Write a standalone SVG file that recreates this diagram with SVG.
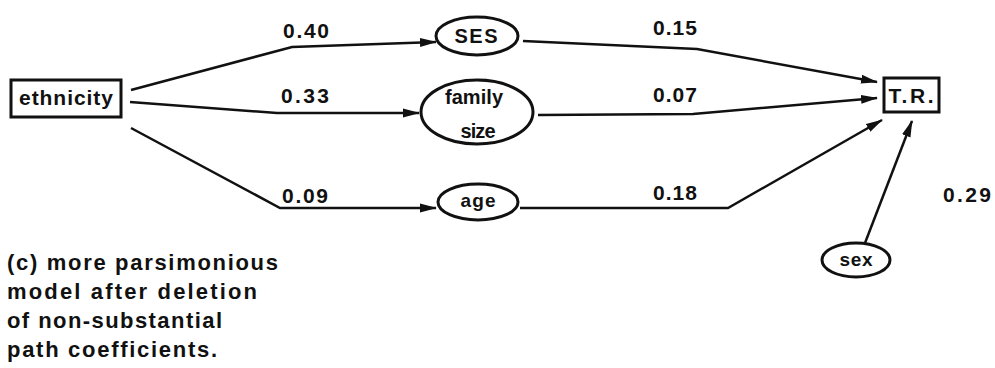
<svg xmlns="http://www.w3.org/2000/svg" width="995" height="368" viewBox="0 0 995 368">
<style>
.n{fill:#fff;stroke:#111;stroke-width:3}
.t{font-family:"Liberation Sans",Arial,sans-serif;font-weight:bold;fill:#111;text-anchor:middle}
.lbl{font-family:"Liberation Sans",Arial,sans-serif;font-weight:bold;font-size:21px;fill:#111}
.cap{font-family:"Liberation Sans",Arial,sans-serif;font-weight:bold;font-size:22px;fill:#111}
.e{fill:none;stroke:#111;stroke-width:2.5;marker-end:url(#arr)}
</style>
<defs>
<marker id="arr" markerWidth="17" markerHeight="10" refX="16" refY="5" orient="auto" markerUnits="userSpaceOnUse">
<path d="M0,0.5 L17,5 L0,9.5 z" fill="#111"/>
</marker>
</defs>
<rect width="995" height="368" fill="#fff"/>
<g id="connectors">
<path class="e" d="M131,90 L292,47 L436,42"/>
<path class="e" d="M130,102 L277,113 L419,113"/>
<path class="e" d="M131,128 L280,208 L436,208"/>
<path class="e" d="M523,41 L697,49 L877,82"/>
<path class="e" d="M538,115 L693,114 L877,98"/>
<path class="e" d="M520,208 L728,208 L882,120"/>
<path class="e" d="M865,243 L912,121"/>
</g>
<g id="labels">
<text class="lbl" x="283" y="38" textLength="46">0.40</text>
<text class="lbl" x="281" y="103" textLength="48">0.33</text>
<text class="lbl" x="282" y="203" textLength="46">0.09</text>
<text class="lbl" x="653" y="35" textLength="44">0.15</text>
<text class="lbl" x="653" y="102" textLength="44">0.07</text>
<text class="lbl" x="653" y="200" textLength="44">0.18</text>
<text class="lbl" x="943" y="202" textLength="48">0.29</text>
</g>
<g id="ethnicity">
<rect class="n" x="11" y="80" width="110" height="37"/>
<text class="t" x="66" y="105" font-size="21" textLength="94">ethnicity</text>
</g>
<g id="ses">
<ellipse class="n" cx="477" cy="36" rx="41" ry="19"/>
<text class="t" x="476" y="43" font-size="20" textLength="43">SES</text>
</g>
<g id="family-size">
<ellipse class="n" cx="477" cy="112" rx="56" ry="32"/>
<text class="t" x="474" y="104" font-size="20" textLength="58">family</text>
<text class="t" x="478" y="138" font-size="20" textLength="35">size</text>
</g>
<g id="age">
<ellipse class="n" cx="478" cy="202" rx="40" ry="18"/>
<text class="t" x="478" y="207" font-size="19" textLength="35">age</text>
</g>
<g id="tr">
<rect class="n" x="884" y="78" width="55" height="34"/>
<text class="t" x="911" y="103" font-size="21" textLength="45">T.R.</text>
</g>
<g id="sex">
<ellipse class="n" cx="856" cy="260" rx="34" ry="17"/>
<text class="t" x="856" y="266" font-size="19" textLength="33">sex</text>
</g>
<g id="caption">
<text class="cap" x="7" y="270" textLength="271" lengthAdjust="spacing">(c) more parsimonious</text>
<text class="cap" x="7" y="299" textLength="250" lengthAdjust="spacing">model after deletion</text>
<text class="cap" x="7" y="328" textLength="215" lengthAdjust="spacing">of non-substantial</text>
<text class="cap" x="7" y="357" textLength="210" lengthAdjust="spacing">path coefficients.</text>
</g>
</svg>
